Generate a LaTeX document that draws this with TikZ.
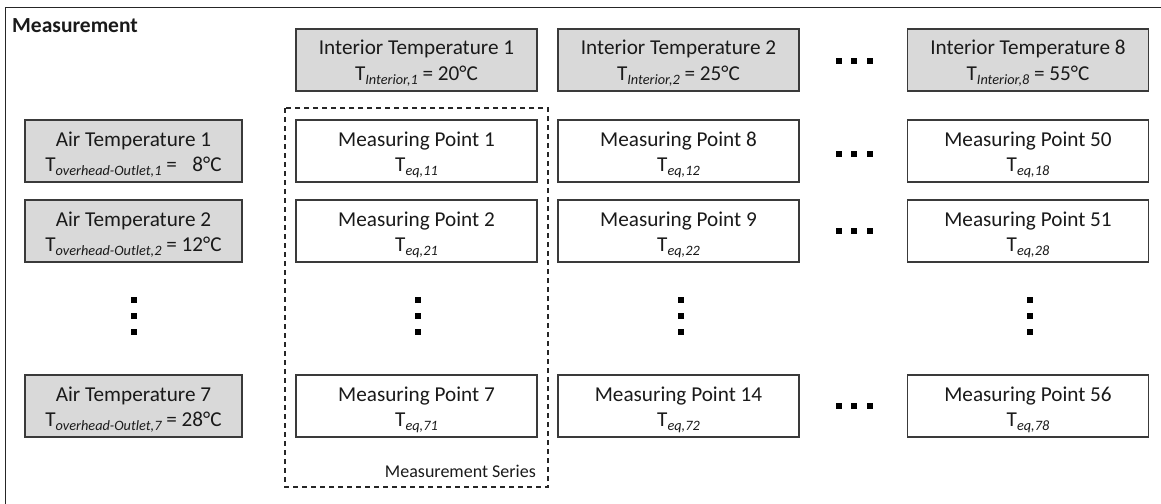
\documentclass[tikz,border=0pt]{standalone}
\usepackage{fontspec}
\setmainfont{Carlito}
\definecolor{boxgray}{HTML}{D9D9D9}
\definecolor{edge}{HTML}{3A3A3A}
\definecolor{ink}{HTML}{1A1A1A}
\newcommand\sbx[1]{\raisebox{-4pt}{\fontsize{14.3}{14}\selectfont\itshape #1}}
\newcommand\mytxt{\fontsize{21.2}{25}\selectfont}
\tikzset{
  cellbox/.style={draw=edge, line width=1.3pt, minimum width=241pt, minimum height=62pt, inner sep=0pt, fill=white},
  airbox/.style={cellbox, minimum width=217pt, fill=boxgray},
  graybox/.style={cellbox, fill=boxgray},
  lbl/.style={anchor=base, inner sep=0pt, text=ink, font=\mytxt},
  dotsq/.style={fill=black, draw=none, minimum size=6pt, inner sep=0pt, rectangle},
}
% name, x, y, line1, line2, style
\newcommand\cell[6]{%
  \node[#6] (#1) at (#2pt,-#3pt) {};
  \node[lbl] (#1a) at ([yshift=5pt]#1.center) {#4};
  \node[lbl] (#1b) at ([yshift=-20pt]#1.center) {#5};
}
\newcommand\hdots[3]{% name, x center, y
  \node[dotsq] (#1a) at (#2pt-15.5pt,-#3pt) {};
  \node[dotsq] (#1b) at (#2pt,-#3pt) {};
  \node[dotsq] (#1c) at (#2pt+15.5pt,-#3pt) {};
}
\newcommand\vdotsq[2]{% name, x
  \node[dotsq] (#1a) at (#2pt,-300pt) {};
  \node[dotsq] (#1b) at (#2pt,-316pt) {};
  \node[dotsq] (#1c) at (#2pt,-332pt) {};
}
\begin{document}
\begin{tikzpicture}[x=1pt,y=1pt]
\useasboundingbox (0,0) rectangle (1161,-503);
\draw[line width=1.5pt, black!85] (5.5,-7.5) rectangle (1175,-520);
\node[anchor=base west, inner sep=0pt, font=\fontsize{21.5}{24}\selectfont\bfseries, text=ink] (title) at (12,-33) {Measurement};

% dashed measurement series frame
\draw[dashed, dash pattern=on 5pt off 4pt, line width=1.3pt, black!85] (285,-108) rectangle (548,-487);
\node[anchor=base east, inner sep=0pt, font=\fontsize{18}{20}\selectfont, text=ink] (series) at (536,-477) {Measurement Series};

% interior temperatures
\cell{it1}{416.5}{60}{Interior Temperature 1}{T\sbx{Interior,1} = 20°C}{graybox}
\cell{it2}{678.5}{60}{Interior Temperature 2}{T\sbx{Interior,2} = 25°C}{graybox}
\cell{it8}{1028}{60}{Interior Temperature 8}{T\sbx{Interior,8} = 55°C}{graybox}
\hdots{hd0}{854}{61}

% air temperatures
\cell{at1}{133.5}{151}{Air Temperature 1}{T\sbx{overhead-Outlet,1} = \hphantom{1}8°C}{airbox}
\cell{at2}{133.5}{231}{Air Temperature 2}{T\sbx{overhead-Outlet,2} = 12°C}{airbox}
\cell{at7}{133.5}{406}{Air Temperature 7}{T\sbx{overhead-Outlet,7} = 28°C}{airbox}

% row 1
\cell{mp1}{416.5}{151}{Measuring Point 1}{T\sbx{eq,11}}{cellbox}
\cell{mp8}{678.5}{151}{Measuring Point 8}{T\sbx{eq,12}}{cellbox}
\cell{mp50}{1028}{151}{Measuring Point 50}{T\sbx{eq,18}}{cellbox}
\hdots{hd1}{854}{154}
% row 2
\cell{mp2}{416.5}{231}{Measuring Point 2}{T\sbx{eq,21}}{cellbox}
\cell{mp9}{678.5}{231}{Measuring Point 9}{T\sbx{eq,22}}{cellbox}
\cell{mp51}{1028}{231}{Measuring Point 51}{T\sbx{eq,28}}{cellbox}
\hdots{hd2}{854}{231}
% vertical dots
\vdotsq{vd0}{134}
\vdotsq{vd1}{418}
\vdotsq{vd2}{681}
\vdotsq{vd3}{1030}
% row 7
\cell{mp7}{416.5}{406}{Measuring Point 7}{T\sbx{eq,71}}{cellbox}
\cell{mp14}{678.5}{406}{Measuring Point 14}{T\sbx{eq,72}}{cellbox}
\cell{mp56}{1028}{406}{Measuring Point 56}{T\sbx{eq,78}}{cellbox}
\hdots{hd7}{854}{406}
\end{tikzpicture}
\end{document}
